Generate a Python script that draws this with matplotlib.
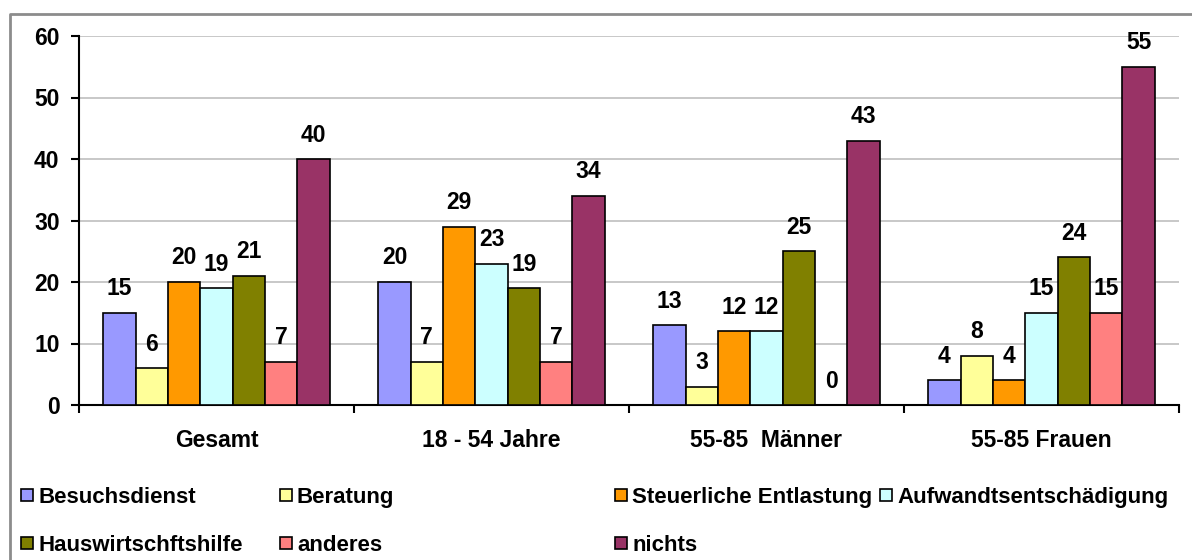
import numpy as np
import matplotlib
matplotlib.use("Agg")
import matplotlib.pyplot as plt
from matplotlib.patches import Rectangle
from matplotlib.lines import Line2D

plt.rcParams["font.family"] = ["Liberation Sans", "DejaVu Sans"]
plt.rcParams["font.weight"] = "bold"

categories = ["Gesamt", "18 - 54 Jahre", "55-85  Männer", "55-85 Frauen"]
series = ["Besuchsdienst", "Beratung", "Steuerliche Entlastung", "Aufwandtsentschädigung",
          "Hauswirtschftshilfe", "anderes", "nichts"]
colors = ["#9999FF", "#FFFF99", "#FF9900", "#CCFFFF", "#808000", "#FF8080", "#993366"]

besuchsdienst = [15, 20, 13, 4]
beratung = [6, 7, 3, 8]
steuerlich = [20, 29, 12, 4]
aufwand = [19, 23, 12, 15]
hauswirtschaft = [21, 19, 25, 24]
anderes = [7, 7, 0, 15]
nichts = [40, 34, 43, 55]
values = [besuchsdienst, beratung, steuerlich, aufwand, hauswirtschaft, anderes, nichts]

W, H = 1192, 560
fig = plt.figure(figsize=(W / 100, H / 100), dpi=100)
ax = fig.add_axes([79 / W, 1 - 405 / H, (1179 - 79) / W, (405 - 36) / H])

n = len(series)
slots = n + 1.5          # Excel gap width 150%
bw = 1 / slots
x0 = np.arange(len(categories))
for i, (name, vals, c) in enumerate(zip(series, values, colors)):
    xs = x0 + (0.75 + i + 0.5) * bw
    ax.bar(xs, vals, bw, color=c, edgecolor="black", linewidth=1.2, zorder=3, label=name)
    for x, v in zip(xs, vals):
        ax.annotate(str(v), (x, v), xytext=(0, 9), textcoords="offset points",
                    ha="center", va="bottom", fontsize=16.5, fontweight="bold", zorder=4)

ax.set_xlim(0, len(categories))
ax.set_ylim(0, 60)
ax.set_yticks(range(0, 61, 10))
ax.yaxis.grid(True, color="#BFBFBF", linewidth=1.2, zorder=0)
ax.set_xticks(range(len(categories) + 1))
ax.set_xticklabels([])
ax.set_xticks(x0 + 0.5, minor=True)
ax.set_xticklabels(categories, minor=True, fontsize=16.5, fontweight="bold")
ax.tick_params(axis="x", which="major", direction="out", length=6, width=1.5)
ax.tick_params(axis="x", which="minor", length=0, pad=17)
ax.tick_params(axis="y", direction="out", length=6, width=1.5, labelsize=16.5, pad=8)
for s in ["top", "right"]:
    ax.spines[s].set_visible(False)
for s in ["left", "bottom"]:
    ax.spines[s].set_linewidth(1.5)

# legend laid out like the Excel one (two rows, four columns)
leg_cols = [21, 280, 615, 880]
leg_rows = [495, 543]
for i, (name, c) in enumerate(zip(series, colors)):
    r, col = divmod(i, 4)
    px, py = leg_cols[col], leg_rows[r]
    fig.patches.append(Rectangle((px / W, 1 - (py + 6) / H), 12 / W, 12 / H,
                                 transform=fig.transFigure, facecolor=c,
                                 edgecolor="black", linewidth=1.2))
    fig.text((px + 17) / W, 1 - py / H, name, ha="left", va="center_baseline",
             fontsize=16, fontweight="bold")

# chart area border (top and left visible)
fig.lines.append(Line2D([10 / W, 10 / W, 1], [0, 1 - 14 / H, 1 - 14 / H],
                        transform=fig.transFigure, color="#8C8C8C", linewidth=2))

fig.savefig("out.png", dpi=100)
